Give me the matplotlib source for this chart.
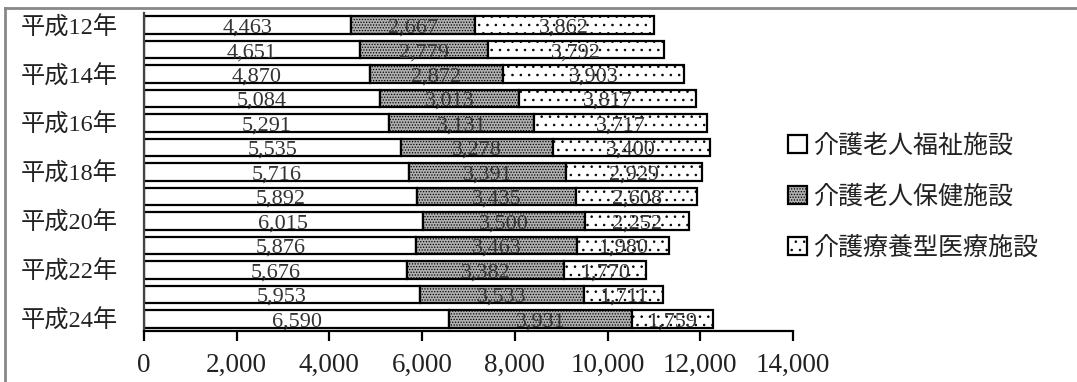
import matplotlib
matplotlib.use("Agg")
import matplotlib.pyplot as plt
import numpy as np
from matplotlib.lines import Line2D

years = ["平成12年", "平成13年", "平成14年", "平成15年", "平成16年", "平成17年", "平成18年",
         "平成19年", "平成20年", "平成21年", "平成22年", "平成23年", "平成24年"]
welfare = [4463, 4651, 4870, 5084, 5291, 5535, 5716, 5892, 6015, 5876, 5676, 5953, 6590]
health = [2667, 2779, 2872, 3013, 3131, 3278, 3391, 3435, 3500, 3463, 3382, 3533, 3931]
medical = [3862, 3792, 3903, 3817, 3717, 3400, 2929, 2608, 2252, 1980, 1770, 1711, 1759]
series_names = ["介護老人福祉施設", "介護老人保健施設", "介護療養型医療施設"]
xticks = [0, 2000, 4000, 6000, 8000, 10000, 12000, 14000]

serif = ["Liberation Serif", "Noto Sans CJK JP"]
sans = ["Noto Sans CJK JP", "DejaVu Sans"]
plt.rcParams["hatch.linewidth"] = 0.6
plt.rcParams["hatch.color"] = "#444444"

fig = plt.figure(figsize=(10.77, 3.82), dpi=100)
ax = fig.add_axes([0.1337, 0.1335, 0.7363 - 0.1337, 0.966 - 0.1335])

y = np.arange(len(years))
h = 0.72
lw = 1.6
left2 = np.array(welfare)
left3 = left2 + np.array(health)

b1 = ax.barh(y, welfare, height=h, color="white", edgecolor="black", linewidth=lw)
b2 = ax.barh(y, health, left=left2, height=h, color="#b0b0b0", edgecolor="black",
             linewidth=lw, hatch="......")
b3 = ax.barh(y, medical, left=left3, height=h, color="white", edgecolor="black",
             linewidth=lw, hatch="..")

# value labels centred in each segment
for vals, lefts in ((welfare, np.zeros(len(y))), (health, left2), (medical, left3)):
    for yi, v, l in zip(y, vals, lefts):
        ax.text(l + v / 2, yi + 0.12, f"{v:,}", ha="center", va="center",
                fontsize=16, family=serif, color="#333333")

ax.set_ylim(len(years) - 0.5, -0.5)
ax.set_xlim(0, 14000)
ax.set_xticks(xticks)
ax.set_xticklabels([f"{t:,}" for t in xticks], fontsize=19.5, family=serif, color="#222222")
ax.set_yticks(y[::2])
ax.set_yticklabels(years[::2], fontsize=17.5, family=serif, color="#222222")
ax.tick_params(axis="y", length=0, pad=19)
ax.tick_params(axis="x", length=7, width=1.6, direction="out", pad=9, color="black")
for s in ("top", "right"):
    ax.spines[s].set_visible(False)
ax.spines["left"].set_color("#444444")
ax.spines["left"].set_linewidth(1.6)
ax.spines["bottom"].set_linewidth(1.6)

leg = fig.legend([b1, b2, b3], series_names, loc="center left",
                 bbox_to_anchor=(0.711, 0.485), frameon=False,
                 prop={"family": sans, "size": 18}, handlelength=0.75, handleheight=0.75,
                 handletextpad=0.25, labelspacing=1.0)
for t in leg.get_texts():
    t.set_color("#222222")

# outer frame lines
fig.add_artist(Line2D([5 / 1077, 5 / 1077], [0, 1 - 8 / 382], color="#888888", lw=2,
                      transform=fig.transFigure))
fig.add_artist(Line2D([5 / 1077, 1], [1 - 8 / 382, 1 - 8 / 382], color="#888888", lw=2,
                      transform=fig.transFigure))

fig.savefig("out.png", dpi=100)
